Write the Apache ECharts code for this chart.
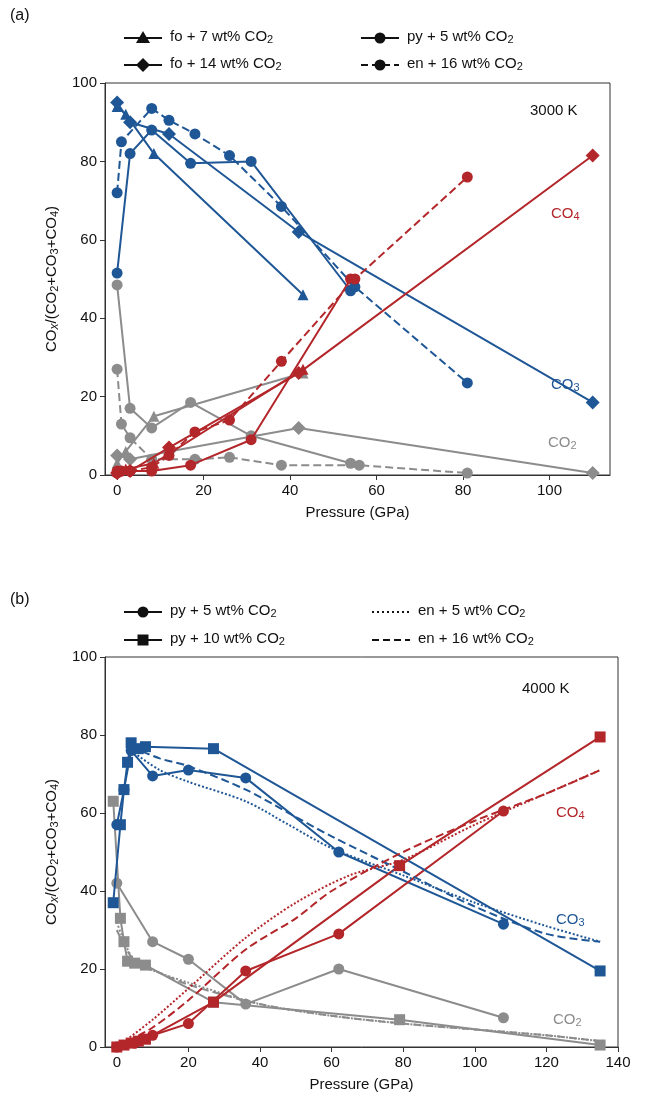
<!DOCTYPE html>
<html><head><meta charset="utf-8">
<script src="https://cdn.jsdelivr.net/npm/echarts@6/dist/echarts.min.js"></script>
<style>html,body{margin:0;padding:0;background:#fff}#c{width:645px;height:1119px}</style>
</head><body><div id="c"></div>
<script>
// Panel (a) 3000 K
const fo7_CO3=[[0,94],[2,92],[8.5,82],[43,46]];
const fo7_CO2=[[0,3],[2,6],[8.5,15],[43,26]];
const fo7_CO4=[[0,1],[2,1.5],[8.5,3],[43,27]];
const fo14_CO3=[[0,95],[3,90],[12,87],[42,62],[110,18.5]];
const fo14_CO2=[[0,5],[3,4],[12,6],[42,12],[110,0.5]];
const fo14_CO4=[[0,0.5],[3,1],[12,7],[42,26],[110,81.5]];
const py5a_CO3=[[0,51.5],[3,82],[8,88],[17,79.5],[31,80],[54,47]];
const py5a_CO2=[[0,48.5],[3,17],[8,12],[17,18.5],[31,10],[54,3]];
const py5a_CO4=[[0,0.5],[3,1],[8,1],[17,2.5],[31,9],[54,50]];
const en16a_CO3=[[0,72],[1,85],[8,93.5],[12,90.5],[18,87],[26,81.5],[38,68.5],[55,48],[81,23.5]];
const en16a_CO2=[[0,27],[1,13],[3,9.5],[8,4],[18,4],[26,4.5],[38,2.5],[56,2.5],[81,0.5]];
const en16a_CO4=[[0,1],[1,1],[3,1],[8,2],[12,5],[18,11],[26,14],[38,29],[55,50],[81,76]];
// Panel (b) 4000 K
const py5b_CO3=[[0,57],[2,66],[4,76],[10,69.5],[20,71],[36,69],[62,50],[108,31.5]];
const py5b_CO2=[[0,42],[10,27],[20,22.5],[36,11],[62,20],[108,7.5]];
const py5b_CO4=[[0,0],[5,1],[10,3],[20,6],[36,19.5],[62,29],[108,60.5]];
const py10_CO3=[[-1,37],[1,57],[2,66],[3,73],[4,78],[6,76.5],[8,77],[27,76.5],[135,19.5]];
const py10_CO2=[[-1,63],[1,33],[2,27],[3,22],[5,21.5],[8,21],[27,11.5],[79,7],[135,0.5]];
const py10_CO4=[[0,0],[2,0.5],[4,1],[6,1.5],[8,2],[27,11.5],[79,46.5],[135,79.5]];
const en5_CO3=[[4,76],[12,71],[20,68],[36,63],[48,57],[60,51],[80,44],[100,37],[120,31],[135,27]];
const en5_CO2=[[0,32],[5,22],[12,19],[20,16.5],[40,11],[60,8],[80,6],[100,4.5],[120,3],[135,1.5]];
const en5_CO4=[[0,0],[10,7],[20,15],[36,28],[50,37],[65,44],[80,48],[100,57],[120,65],[135,71]];
const en16b_CO3=[[4,77],[12,74],[20,72],[36,66],[48,60],[60,54],[80,45],[100,36],[120,29],[135,27]];
const en16b_CO2=[[0,30],[5,22],[12,19],[20,16],[40,11],[60,8],[80,6],[100,4.5],[120,3],[135,1.5]];
const en16b_CO4=[[0,0],[10,5],[20,12],[36,25],[50,33],[60,40],[80,50],[100,58],[120,65],[135,71]];

const BLUE='#1f5796',RED='#b3262a',GRAY='#8c8c8c';
const FONT='"Liberation Sans",Arial,sans-serif';
function S(data,color,sym,type,g){return {type:'line',data:data,xAxisIndex:g,yAxisIndex:g,
 symbol:sym||'none',symbolSize:sym==='rect'?11:(sym==='diamond'?14:11),showSymbol:!!sym,
 smooth:!sym?0.3:false,
 lineStyle:{color:color,width:2,type:type||'solid'},itemStyle:{color:color},z:color===GRAY?2:3,animation:false};}
const series=[];
[[fo7_CO2,fo7_CO3,fo7_CO4,'triangle','solid'],[fo14_CO2,fo14_CO3,fo14_CO4,'diamond','solid'],
 [py5a_CO2,py5a_CO3,py5a_CO4,'circle','solid'],[en16a_CO2,en16a_CO3,en16a_CO4,'circle','dashed']].forEach(a=>{
 series.push(S(a[0],GRAY,a[3],a[4],0),S(a[1],BLUE,a[3],a[4],0),S(a[2],RED,a[3],a[4],0));});
[[py5b_CO2,py5b_CO3,py5b_CO4,'circle','solid'],[py10_CO2,py10_CO3,py10_CO4,'rect','solid'],
 [en5_CO2,en5_CO3,en5_CO4,null,'dotted'],[en16b_CO2,en16b_CO3,en16b_CO4,null,'dashed']].forEach(a=>{
 series.push(S(a[0],GRAY,a[3],a[4],1),S(a[1],BLUE,a[3],a[4],1),S(a[2],RED,a[3],a[4],1));});

function xAx(g,min,max){return {gridIndex:g,type:'value',min:min,max:max,splitNumber:7,
 name:'Pressure (GPa)',nameLocation:'middle',nameGap:30,nameTextStyle:{fontSize:15,color:'#111',fontFamily:FONT},
 axisLine:{onZero:false,lineStyle:{color:'#333'}},axisTick:{lineStyle:{color:'#333'}},splitLine:{show:false},
 axisLabel:{fontSize:15,color:'#111',fontFamily:FONT,showMinLabel:false,showMaxLabel:g===1}};}
function yAx(g){return {gridIndex:g,type:'value',min:0,max:100,interval:20,
 name:'CO{i|x}/(CO{s|2}+CO{s|3}+CO{s|4})',nameLocation:'middle',nameGap:36,
 nameTextStyle:{fontSize:15,color:'#111',fontFamily:FONT,rich:{s:{fontSize:11,padding:[0,0,-6,0],fontFamily:FONT},i:{fontSize:12,fontStyle:'italic',padding:[0,0,-6,0],fontFamily:FONT}}},
 axisLine:{onZero:false,lineStyle:{color:'#333'}},axisTick:{lineStyle:{color:'#333'}},splitLine:{show:false},
 axisLabel:{fontSize:15,color:'#111',fontFamily:FONT}};}

const G=[];
function txt(x,y,t,color,size){G.push({type:'text',left:x,top:y,z:10,style:{text:t,fill:color||'#111',font:(size||15)+'px '+FONT,
 rich:{s:{fontSize:11,fill:color||'#111',padding:[7,0,0,0],fontFamily:FONT},n:{fontSize:size||15,fill:color||'#111',fontFamily:FONT}}}});}
function leg(x,y,sym,dash,label){
 G.push({type:'line',z:10,shape:{x1:x,y1:y,x2:x+38,y2:y},style:{stroke:'#111',lineWidth:2,lineDash:dash==='dashed'?[7,4]:(dash==='dotted'?[2,3]:null)}});
 const cx=x+19;
 if(sym==='circle')G.push({type:'circle',z:11,shape:{cx:cx,cy:y,r:5.5},style:{fill:'#111'}});
 if(sym==='rect')G.push({type:'rect',z:11,shape:{x:cx-5.5,y:y-5.5,width:11,height:11},style:{fill:'#111'}});
 if(sym==='triangle')G.push({type:'polygon',z:11,shape:{points:[[cx,y-7],[cx+7,y+5],[cx-7,y+5]]},style:{fill:'#111'}});
 if(sym==='diamond')G.push({type:'polygon',z:11,shape:{points:[[cx,y-7],[cx+7,y],[cx,y+7],[cx-7,y]]},style:{fill:'#111'}});
 txt(x+46,y-9,'{n|'+label+'}{s|2}');
}
txt(10,8,'(a)','#111',16); txt(10,592,'(b)','#111',16);
leg(124,38,'triangle','solid','fo + 7 wt% CO');
leg(124,65,'diamond','solid','fo + 14 wt% CO');
leg(361,38,'circle','solid','py + 5 wt% CO');
leg(361,65,'circle','dashed','en + 16 wt% CO');
leg(124,612,'circle','solid','py + 5 wt% CO');
leg(124,640,'rect','solid','py + 10 wt% CO');
leg(372,612,null,'dotted','en + 5 wt% CO');
leg(372,640,null,'dashed','en + 16 wt% CO');
txt(530,103,'3000 K');
txt(551,206,'{n|CO}{s|4}',RED); txt(551,377,'{n|CO}{s|3}',BLUE); txt(548,435,'{n|CO}{s|2}',GRAY);
txt(522,681,'4000 K');
txt(556,805,'{n|CO}{s|4}',RED); txt(556,912,'{n|CO}{s|3}',BLUE); txt(553,1012,'{n|CO}{s|2}',GRAY);

const chart=echarts.init(document.getElementById('c'));
chart.setOption({animation:false,
 grid:[{left:105,right:35,top:83,height:392,show:true,borderColor:'#333',borderWidth:1},
       {left:105,right:27,top:657,height:390,show:true,borderColor:'#333',borderWidth:1}],
 xAxis:[xAx(0,-2.8,114),xAx(1,-3.3,140)],yAxis:[yAx(0),yAx(1)],
 series:series,graphic:G});
</script></body></html>
